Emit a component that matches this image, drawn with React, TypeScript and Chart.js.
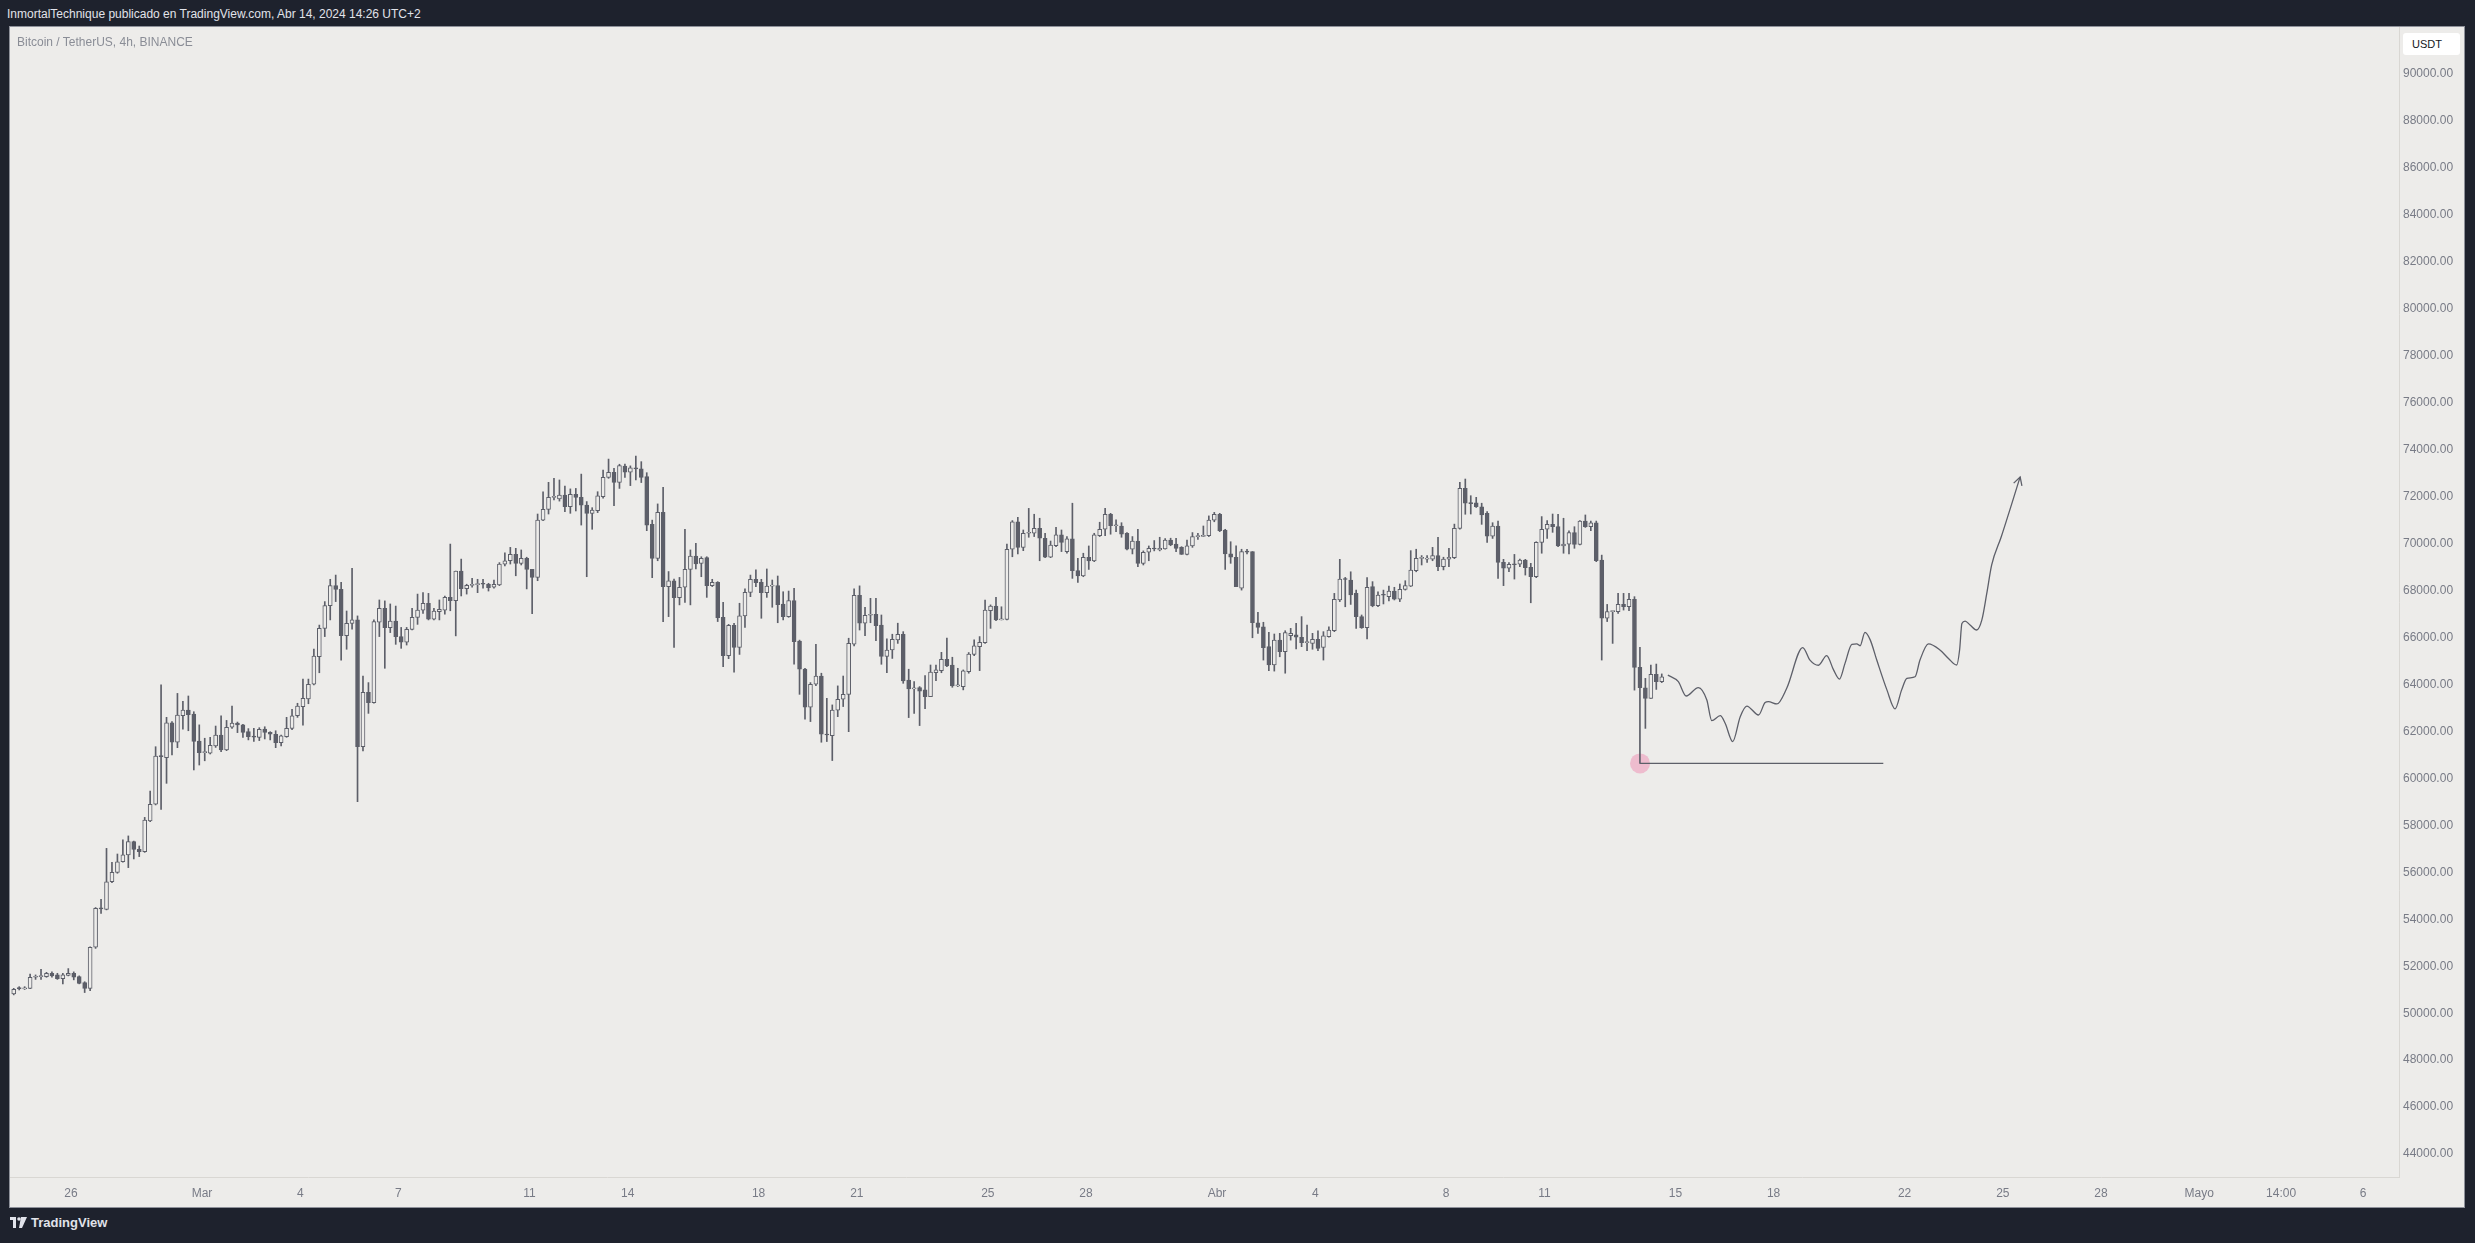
import React, { useEffect, useRef } from "react";
import { Chart, registerables } from "chart.js";

Chart.register(...registerables);

// ---------- DATA ----------
// x axis unit: days counted from Mar 1, 2024 (4h candles)
const FIRST_CANDLE_DAY = -5.75;
const CANDLE_STEP_DAYS = 1 / 6;

// [open, high, low, close]  Feb 24 -> Mar 7
const CANDLES_FEB24_MAR07: number[][] = [
  [50820, 51060, 50780, 51020], [51090, 51130, 50990, 51030], [51030, 51130, 51010, 51080], [51060, 51670, 51050, 51530],
  [51530, 51630, 51440, 51560], [51560, 51870, 51440, 51600], [51560, 51740, 51530, 51700], [51700, 51760, 51530, 51590],
  [51630, 51700, 51440, 51470], [51470, 51700, 51250, 51630], [51610, 51900, 51590, 51700], [51700, 51760, 51420, 51530],
  [51560, 51590, 51250, 51270], [51300, 51340, 50880, 51060], [51060, 52830, 50960, 52810], [52810, 54500, 52760, 54470],
  [54470, 54850, 54250, 54440], [54420, 57020, 54400, 55600], [55600, 56430, 55560, 56000], [56000, 56780, 55960, 56450],
  [56450, 57380, 56430, 56740], [56740, 57550, 56200, 57310], [57310, 57330, 56570, 56980], [56980, 57120, 56670, 56880],
  [56880, 58340, 56850, 58230], [58190, 59460, 58160, 58900], [58900, 61350, 58870, 60950], [60950, 63980, 58680, 60930],
  [60880, 62600, 59790, 62370], [62370, 62420, 61000, 61540], [61540, 63620, 61310, 62700], [62670, 63280, 62100, 62910],
  [62910, 63510, 62030, 62710], [62740, 62840, 60360, 61570], [61590, 62280, 60570, 61100], [61100, 61710, 60750, 61130],
  [61070, 61750, 61040, 61410], [61380, 62230, 61320, 61850], [61850, 62660, 61140, 61210], [61210, 62470, 61180, 62180],
  [62180, 63080, 62130, 62360], [62360, 62400, 61950, 62280], [62280, 62300, 61750, 61960], [61990, 62120, 61640, 61780],
  [61780, 62130, 61570, 61760], [61750, 62160, 61610, 62090], [62100, 62200, 61680, 61960], [61960, 61990, 61640, 61880],
  [61880, 62030, 61310, 61520], [61520, 61850, 61380, 61810], [61780, 62600, 61750, 62130], [62130, 62940, 62080, 62670],
  [62670, 63200, 62600, 63080], [63060, 64230, 62270, 63410], [63380, 64230, 63180, 64010], [64010, 65510, 63980, 65210],
  [65180, 66530, 64500, 66390], [66390, 67530, 66040, 67360], [67360, 68480, 66750, 68210], [68210, 68660, 67530, 68050],
  [68050, 68350, 65040, 66080], [66080, 67130, 65500, 66600], [66600, 68950, 66360, 66750], [66750, 66920, 59010, 61350],
  [61350, 64360, 61170, 63670], [63670, 64080, 62770, 63230], [63230, 66750, 63200, 66680], [66650, 67600, 66040, 67240],
  [67240, 67560, 64690, 66420], [66420, 67430, 66210, 66700], [66700, 67340, 65710, 66040], [66040, 66430, 65540, 65800],
  [65800, 66430, 65680, 66350], [66350, 67240, 66320, 66860], [66860, 67850, 66560, 67170],
];

// Mar 7 -> Mar 20
const CANDLES_MAR07_MAR20: number[][] = [
  [67170, 67910, 67030, 67460], [67460, 67880, 66750, 66780], [66780, 67240, 66750, 67130], [67100, 67600, 66750, 67200],
  [67170, 67770, 67000, 67710], [67710, 69980, 67140, 67570], [67570, 68830, 66070, 68830], [68830, 69340, 67770, 68080],
  [68080, 68270, 67850, 68220], [68220, 68520, 68140, 68250], [68250, 68480, 67910, 68280], [68280, 68480, 68100, 68270],
  [68270, 68310, 67980, 68120], [68140, 68450, 68100, 68270], [68240, 69190, 68210, 69130], [69120, 69610, 69050, 69270],
  [69270, 69840, 69130, 69540], [69540, 69800, 68630, 69160], [69160, 69730, 69090, 69370], [69370, 69420, 68070, 68900],
  [68900, 68900, 67020, 68560], [68560, 71260, 68420, 71000], [71000, 72210, 70980, 71460], [71460, 72610, 71260, 71970],
  [71970, 72780, 71860, 71990], [71900, 72710, 71810, 72070], [72070, 72450, 71360, 71570], [71570, 72330, 71290, 72100],
  [72100, 72350, 71390, 71970], [71970, 72960, 70790, 71640], [71640, 71790, 68590, 71290], [71290, 71530, 70610, 71430],
  [71400, 72210, 71320, 72030], [72000, 73130, 71930, 72820], [72820, 73600, 72780, 73040], [73040, 73210, 71620, 72610],
  [72610, 73380, 72350, 73320], [73300, 73390, 72820, 73040], [73040, 73310, 72470, 73230], [73230, 73730, 72710, 73180],
  [73180, 73490, 72600, 72820], [72850, 73020, 70550, 70790], [70820, 71000, 68550, 69370], [69370, 71690, 69270, 71330],
  [71330, 72400, 66680, 68170], [68170, 68810, 66890, 68410], [68410, 68490, 65580, 67700], [67700, 68560, 67390, 68140],
  [68140, 70610, 67500, 68900], [68900, 69730, 67390, 69470], [69470, 70010, 68920, 69130], [69160, 69440, 68590, 69370],
  [69400, 69440, 67710, 68210], [68210, 68480, 68170, 68350], [68350, 68380, 66680, 66850], [66860, 67500, 64760, 65230],
  [65230, 66560, 65100, 66520], [66520, 66600, 64520, 65580], [65580, 67460, 65280, 66920], [66920, 68070, 66430, 67920],
  [67920, 68660, 67740, 68480], [68480, 68880, 68170, 68340], [68350, 68480, 66820, 67910], [67910, 68920, 67710, 68190],
  [68190, 68450, 67290, 68210], [68210, 68620, 66630, 67400], [67420, 67950, 66750, 66890], [66890, 67980, 66860, 67570],
  [67570, 68100, 64860, 65820], [65850, 65890, 63580, 64650], [64660, 64690, 62520, 63030], [63030, 64080, 62420, 64010],
  [64010, 65710, 63950, 64360], [64360, 64480, 61540, 61880], [61880, 63410, 61570, 61850],
];

// Mar 20 -> Apr 2
const CANDLES_MAR20_APR02: number[][] = [
  [61820, 63130, 60760, 62910], [62910, 63940, 62630, 63370], [63370, 64360, 63060, 63580], [63580, 65970, 61990, 65750],
  [65720, 68070, 65640, 67800], [67800, 68200, 66320, 66610], [66610, 67290, 66080, 66950], [66950, 67670, 66630, 66980],
  [66990, 67670, 65870, 66510], [66530, 66960, 64860, 65190], [65190, 65940, 64500, 65470], [65470, 66140, 65110, 65920],
  [65900, 66610, 65750, 66140], [66140, 66250, 64050, 64150], [64190, 64650, 62590, 63810], [63810, 64120, 62770, 63840],
  [63870, 63910, 62250, 63720], [63770, 64380, 62970, 63480], [63480, 64830, 63480, 64530], [64500, 64830, 64160, 64620],
  [64590, 65370, 64500, 65070], [65070, 65980, 64760, 64790], [64830, 65160, 63880, 63940], [63940, 64690, 63910, 63950],
  [63910, 64620, 63770, 64580], [64550, 65360, 64480, 65300], [65280, 65900, 65230, 65650], [65610, 66040, 64590, 65800],
  [65780, 67600, 65750, 67170], [67140, 67390, 66390, 67340], [67340, 67710, 66720, 66750], [66750, 67310, 66750, 66770],
  [66770, 69980, 66750, 69760], [69760, 70980, 69440, 70930], [70930, 71120, 69560, 69840], [69840, 70580, 69700, 70440],
  [70440, 71500, 70270, 70440], [70440, 71250, 70300, 70650], [70650, 71080, 69270, 70230], [70230, 70440, 69400, 69420],
  [69420, 70110, 69400, 69940], [69910, 70690, 69870, 70370], [70370, 70580, 69660, 70050], [69660, 70300, 69590, 70200],
  [70200, 71720, 68520, 68850], [68850, 69370, 68350, 68620], [68620, 69590, 68590, 69420], [69420, 69900, 68900, 69260],
  [69260, 70440, 69230, 70370], [70340, 70910, 70300, 70610], [70610, 71500, 70340, 71250], [71250, 71290, 70400, 70760],
  [70760, 71010, 70510, 70790], [70750, 70890, 70270, 70400], [70440, 70470, 69730, 69760], [69760, 70300, 69560, 70110],
  [70110, 70610, 69020, 69160], [69160, 69690, 69090, 69630], [69630, 69900, 69270, 69800], [69800, 70130, 69690, 69770],
  [69730, 70270, 69690, 69800], [69770, 70210, 69760, 70150], [70150, 70230, 69910, 69940], [69980, 70230, 69660, 69800],
  [69840, 69870, 69540, 69540], [69540, 70150, 69520, 69910], [69900, 70470, 69840, 70300], [70300, 70440, 70180, 70310],
  [70310, 70750, 70300, 70340], [70340, 71180, 70300, 71000], [71000, 71330, 70930, 71250], [71250, 71290, 70510, 70550],
  [70580, 70610, 68900, 69560], [69560, 70080, 69160, 69420], [69420, 69900, 68170, 68170],
];

// Apr 2 -> Apr 14
const CANDLES_APR02_APR14: number[][] = [
  [68100, 69760, 68020, 69660], [69660, 69760, 69560, 69640], [69660, 69660, 65990, 66630], [66630, 67070, 66180, 66430],
  [66460, 66650, 65040, 65570], [65610, 66220, 64590, 64830], [64830, 66150, 64570, 65890], [65890, 66180, 65180, 65400],
  [65400, 66290, 64480, 66210], [66080, 66390, 65890, 66180], [66110, 66600, 65510, 66010], [66010, 66890, 65610, 65780],
  [65780, 66530, 65440, 65790], [65750, 66180, 65500, 65920], [65920, 66290, 65440, 65540], [65580, 66250, 65040, 66070],
  [66040, 66460, 66010, 66320], [66290, 67880, 66250, 67630], [67600, 69330, 67530, 68490], [68490, 68560, 67310, 68470],
  [68450, 68800, 67410, 67810], [67880, 68020, 66390, 66890], [66890, 66960, 66390, 66420], [66420, 68550, 65940, 68140],
  [68170, 68380, 67310, 67360], [67360, 67950, 67310, 67810], [67810, 68020, 67430, 67800], [67740, 68190, 67560, 67980],
  [67980, 68140, 67600, 67630], [67630, 68280, 67530, 68050], [68050, 68420, 68020, 68210], [68190, 69700, 68170, 68870],
  [68850, 69760, 68800, 69370], [69370, 69490, 69090, 69390], [69340, 69490, 69200, 69360], [69340, 69840, 69270, 69490],
  [69490, 70270, 68850, 69020], [69020, 69420, 68880, 69340], [69340, 69800, 69020, 69420], [69400, 70830, 69360, 70650],
  [70650, 72610, 70620, 72350], [72350, 72750, 71250, 71720], [71720, 72040, 71260, 71700], [71740, 71970, 71540, 71570],
  [71570, 71720, 70820, 71220], [71290, 71360, 70050, 70320], [70320, 70890, 70220, 70750], [70750, 70960, 68520, 69200],
  [69200, 69330, 68210, 68950], [68950, 69190, 68800, 69120], [69120, 69540, 68490, 69100], [69120, 69340, 69020, 69300],
  [69300, 69330, 68660, 68980], [68990, 69160, 67480, 68590], [68590, 70080, 68550, 70050], [70050, 71150, 69590, 70610],
  [70610, 70980, 70220, 70820], [70820, 71260, 70480, 70720], [70720, 71250, 69870, 69900], [69900, 71080, 69590, 69980],
  [69980, 70540, 69560, 70470], [70470, 70720, 69800, 69970], [69970, 70980, 69940, 70960], [70960, 71220, 70690, 70720],
  [70720, 70960, 70550, 70890], [70890, 70960, 69230, 69270], [69300, 69510, 65040, 66820], [66820, 67410, 66680, 67100],
  [67100, 67130, 65750, 67120], [67100, 67880, 67030, 67410], [67410, 67880, 67170, 67310], [67310, 67880, 67140, 67630],
  [67630, 67740, 63760, 64730], [64730, 65580, 60640, 63860], [63860, 64260, 62130, 63410], [63410, 64830, 63410, 64430],
  [64430, 64870, 63790, 64120], [64120, 64450, 64080, 64330],
];

// Hand-drawn projection path (day, price)
const PROJECTION_DAYS = [
  44.77, 45.09, 45.33, 45.70, 45.96, 46.11, 46.37, 46.52, 46.75, 46.98, 47.18, 47.54, 47.74, 47.84, 48.10, 48.40,
  48.89, 49.11, 49.37, 49.62, 49.83, 50.01, 50.18, 50.39, 50.54, 50.64, 50.79, 50.95, 51.15, 51.46, 51.71, 51.91,
  52.07, 52.32, 52.47, 52.73, 53.08, 53.34, 53.59, 53.68, 53.75, 53.85, 54.00, 54.20, 54.36, 54.51, 54.66, 54.95, 55.53,
];
const PROJECTION_PRICES = [
  64400, 64120, 63510, 63870, 63340, 62460, 62670, 62350, 61570, 62630, 63080, 62700, 63230, 63270, 63170, 63840,
  65570, 65040, 64820, 65230, 64620, 64230, 64900, 65710, 65730, 65650, 66220, 65900, 65040, 63770, 62960, 63770,
  64260, 64330, 65040, 65730, 65470, 65110, 64830, 65470, 66600, 66700, 66530, 66320, 66750, 67880, 69090, 70280, 72840,
];

// Marked low and horizontal level
const SUPPORT_PRICE = 60640;
const SUPPORT_FROM_DAY = 43.92;
const SUPPORT_TO_DAY = 51.35;

// Axis ticks
const X_TICK_DAYS = [-4, 0, 3, 6, 10, 13, 17, 20, 24, 27, 31, 34, 38, 41, 45, 48, 52, 55, 58, 61, 63.5, 66];
const X_TICK_LABELS = ["26", "Mar", "4", "7", "11", "14", "18", "21", "25", "28", "Abr", "4", "8", "11", "15", "18", "22", "25", "28", "Mayo", "14:00", "6"];
const Y_TICKS = [
  44000, 46000, 48000, 50000, 52000, 54000, 56000, 58000, 60000, 62000, 64000, 66000,
  68000, 70000, 72000, 74000, 76000, 78000, 80000, 82000, 84000, 86000, 88000, 90000,
];

// ---------- STYLE ----------
const FRAME = "#1e222d";
const PANE_BG = "#edecea";
const INK = "#5d5f69";
const AXIS_TEXT = "#787b86";
const FONT = "'Liberation Sans', Arial, sans-serif";

const PANE_LEFT = 10;
const PANE_TOP = 27;
const PANE_W = 2454;
const PANE_H = 1180;
const PLOT_W = 2389;
const PLOT_H = 1150;

const arrowHeadPlugin = {
  id: "arrowHead",
  afterDatasetsDraw(chart: any) {
    const meta = chart.getDatasetMeta(2);
    if (!meta || !meta.data || meta.data.length < 2) return;
    const pts = meta.data;
    const a = pts[pts.length - 2];
    const b = pts[pts.length - 1];
    const ang = Math.atan2(b.y - a.y, b.x - a.x);
    const len = 9;
    const ctx = chart.ctx;
    ctx.save();
    ctx.strokeStyle = INK;
    ctx.lineWidth = 1.3;
    ctx.beginPath();
    ctx.moveTo(b.x - len * Math.cos(ang - 0.5), b.y - len * Math.sin(ang - 0.5));
    ctx.lineTo(b.x, b.y);
    ctx.lineTo(b.x - len * Math.cos(ang + 0.5), b.y - len * Math.sin(ang + 0.5));
    ctx.stroke();
    ctx.restore();
  },
};

export default function App() {
  const canvasRef = useRef<HTMLCanvasElement | null>(null);

  useEffect(() => {
    const candles = [
      ...CANDLES_FEB24_MAR07,
      ...CANDLES_MAR07_MAR20,
      ...CANDLES_MAR20_APR02,
      ...CANDLES_APR02_APR14,
    ];
    const dayOf = (i: number) => FIRST_CANDLE_DAY + i * CANDLE_STEP_DAYS;
    const wicks = candles.map((c, i) => ({ x: dayOf(i), y: [c[2], c[1]] }));
    const bodies = candles.map((c, i) => ({ x: dayOf(i), y: [c[0], c[3]] }));
    const bodyFill = candles.map((c) => (c[3] >= c[0] ? PANE_BG : INK));
    const projection = PROJECTION_DAYS.map((d, i) => ({ x: d, y: PROJECTION_PRICES[i] }));

    const chart = new Chart(canvasRef.current as HTMLCanvasElement, {
      type: "bar",
      data: {
        datasets: [
          {
            type: "bar",
            data: bodies as any,
            backgroundColor: bodyFill,
            borderColor: INK,
            borderWidth: 1,
            borderSkipped: false,
            barThickness: 4,
            minBarLength: 1,
            grouped: false,
            order: 1,
          } as any,
          {
            type: "bar",
            data: wicks as any,
            backgroundColor: INK,
            borderWidth: 0,
            barThickness: 1,
            grouped: false,
            order: 2,
          } as any,
          {
            type: "line",
            data: projection as any,
            borderColor: INK,
            borderWidth: 1.3,
            pointRadius: 0,
            cubicInterpolationMode: "monotone",
            fill: false,
            order: 0,
          } as any,
          {
            type: "line",
            data: [
              { x: SUPPORT_FROM_DAY, y: SUPPORT_PRICE },
              { x: SUPPORT_TO_DAY, y: SUPPORT_PRICE },
            ] as any,
            borderColor: INK,
            borderWidth: 1.3,
            pointRadius: 0,
            fill: false,
            order: 0,
          } as any,
          {
            type: "line",
            data: [{ x: SUPPORT_FROM_DAY, y: SUPPORT_PRICE }] as any,
            showLine: false,
            pointRadius: 10,
            pointBackgroundColor: "rgba(240, 110, 160, 0.38)",
            pointBorderWidth: 0,
            order: 3,
          } as any,
        ],
      },
      options: {
        animation: false,
        responsive: false,
        events: [],
        layout: { padding: 0, autoPadding: false },
        plugins: { legend: { display: false }, tooltip: { enabled: false } },
        scales: {
          x: {
            type: "linear",
            min: -5.864,
            max: 67.1,
            offset: false,
            grid: { display: false, drawTicks: false, offset: false },
            border: { display: true, color: "#d9d7d3" },
            afterBuildTicks: (scale: any) => {
              scale.ticks = X_TICK_DAYS.map((v) => ({ value: v }));
            },
            afterFit: (scale: any) => {
              scale.height = PANE_H - PLOT_H;
              scale.paddingLeft = 0;
              scale.paddingRight = 0;
            },
            ticks: {
              autoSkip: false,
              maxRotation: 0,
              padding: 9,
              color: AXIS_TEXT,
              font: { family: FONT, size: 12 },
              callback: (_v: any, i: number) => X_TICK_LABELS[i],
            },
          },
          y: {
            type: "linear",
            position: "right",
            min: 43024,
            max: 92002,
            grid: { display: false, drawTicks: false },
            border: { display: true, color: "#d9d7d3" },
            afterBuildTicks: (scale: any) => {
              scale.ticks = Y_TICKS.map((v) => ({ value: v }));
            },
            afterFit: (scale: any) => {
              scale.width = PANE_W - PLOT_W;
              scale.paddingTop = 0;
              scale.paddingBottom = 0;
            },
            ticks: {
              autoSkip: false,
              padding: 4,
              color: AXIS_TEXT,
              font: { family: FONT, size: 12 },
              callback: (v: any) => Number(v).toFixed(2),
            },
          },
        },
      } as any,
      plugins: [arrowHeadPlugin],
    });
    return () => chart.destroy();
  }, []);

  return (
    <div
      style={{
        position: "absolute",
        left: 0,
        top: 0,
        width: 2475,
        height: 1243,
        background: FRAME,
        overflow: "hidden",
        fontFamily: FONT,
      }}
    >
      <div style={{ position: "absolute", left: 7, top: 7, fontSize: 12, color: "#e1e3ea", whiteSpace: "nowrap" }}>
        InmortalTechnique publicado en TradingView.com, Abr 14, 2024 14:26 UTC+2
      </div>
      <div
        style={{
          position: "absolute",
          left: PANE_LEFT,
          top: PANE_TOP,
          width: PANE_W,
          height: PANE_H,
          background: PANE_BG,
          boxShadow: "0 0 0 1px #8e919a",
        }}
      >
        <canvas ref={canvasRef} width={PANE_W} height={PANE_H} style={{ display: "block" }} />
        <div style={{ position: "absolute", left: 7, top: 8, fontSize: 12, color: "#8a8d96", whiteSpace: "nowrap" }}>
          Bitcoin / TetherUS, 4h, BINANCE
        </div>
        <div
          style={{
            position: "absolute",
            left: 2393,
            top: 6,
            width: 57,
            height: 22,
            background: "#ffffff",
            borderRadius: 3,
            fontSize: 11,
            color: "#131722",
            lineHeight: "22px",
            paddingLeft: 9,
            boxSizing: "border-box",
          }}
        >
          USDT
        </div>
      </div>
      <div
        style={{
          position: "absolute",
          left: 10,
          top: 1215,
          display: "flex",
          alignItems: "center",
          gap: 4,
          color: "#e1e3ea",
          fontSize: 13,
          fontWeight: 600,
        }}
      >
        <svg width="17" height="11" viewBox="0 0 17 11">
          <rect x="0" y="0" width="6" height="3" fill="#e1e3ea" />
          <rect x="3" y="0" width="3" height="11" fill="#e1e3ea" />
          <circle cx="9" cy="2" r="1.8" fill="#e1e3ea" />
          <polygon points="11,0 17,0 12,11 9,11" fill="#e1e3ea" />
        </svg>
        <span>TradingView</span>
      </div>
    </div>
  );
}
